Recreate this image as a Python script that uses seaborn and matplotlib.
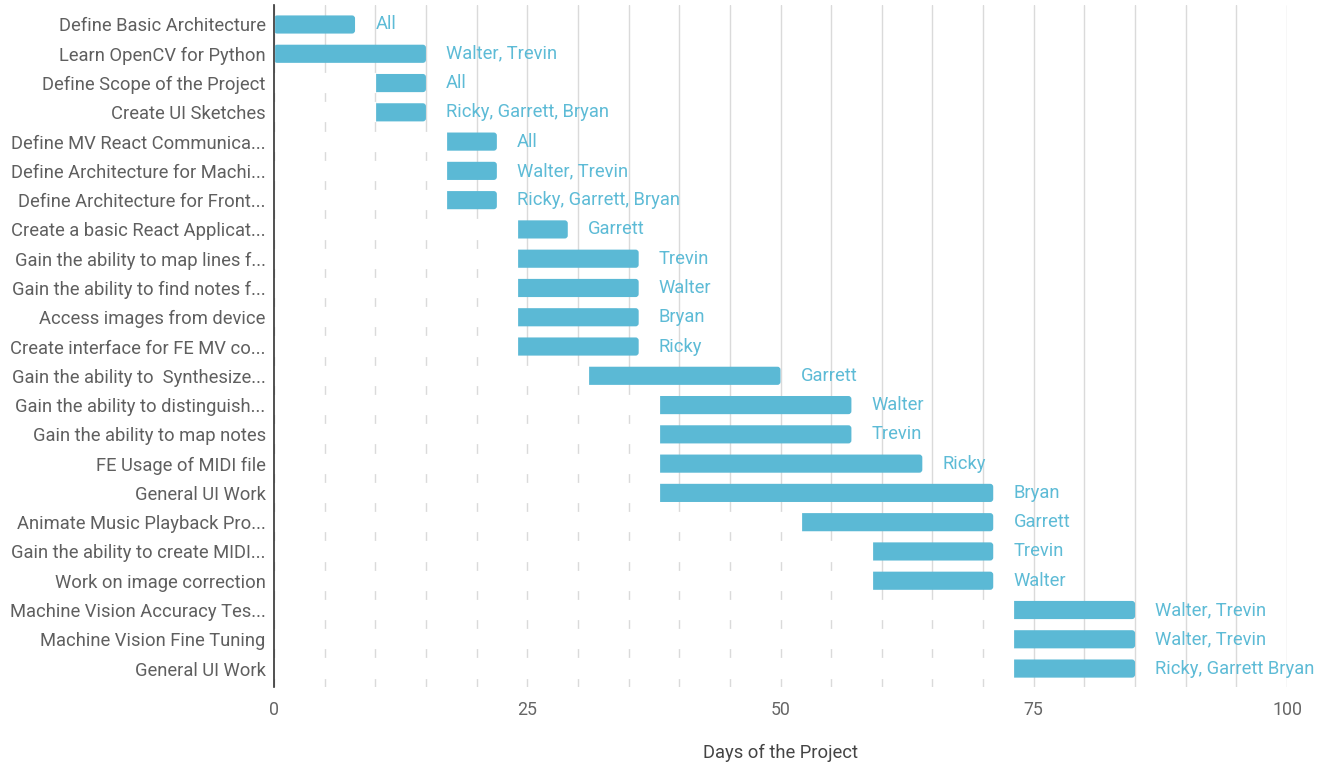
import matplotlib
matplotlib.use("Agg")
import matplotlib.pyplot as plt
from matplotlib.patches import FancyBboxPatch
import seaborn as sns
import pandas as pd

tasks = [
    "Define Basic Architecture",
    "Learn OpenCV for Python",
    "Define Scope of the Project",
    "Create UI Sketches",
    "Define MV React Communica...",
    "Define Architecture for Machi...",
    "Define Architecture for Front...",
    "Create a basic React Applicat...",
    "Gain the ability to map lines f...",
    "Gain the ability to find notes f...",
    "Access images from device",
    "Create interface for FE MV co...",
    "Gain the ability to  Synthesize...",
    "Gain the ability to distinguish...",
    "Gain the ability to map notes",
    "FE Usage of MIDI file",
    "General UI Work",
    "Animate Music Playback Pro...",
    "Gain the ability to create MIDI...",
    "Work on image correction",
    "Machine Vision Accuracy Tes...",
    "Machine Vision Fine Tuning",
    "General UI Work",
]
start_day = [0, 0, 10, 10, 17, 17, 17, 24, 24, 24, 24, 24, 31, 38, 38, 38, 38, 52, 59, 59, 73, 73, 73]
end_day = [8, 15, 15, 15, 22, 22, 22, 29, 36, 36, 36, 36, 50, 57, 57, 64, 71, 71, 71, 71, 85, 85, 85]
assignees = [
    "All", "Walter, Trevin", "All", "Ricky, Garrett, Bryan",
    "All", "Walter, Trevin", "Ricky, Garrett, Bryan", "Garrett",
    "Trevin", "Walter", "Bryan", "Ricky",
    "Garrett", "Walter", "Trevin", "Ricky", "Bryan",
    "Garrett", "Trevin", "Walter",
    "Walter, Trevin", "Walter, Trevin", "Ricky, Garrett Bryan",
]
x_ticks = [0, 25, 50, 75, 100]

df = pd.DataFrame({
    "row": [str(i) for i in range(len(tasks))],
    "task": tasks,
    "start": start_day,
    "end": end_day,
    "who": assignees,
})

sns.set_theme(style="white")
plt.rcParams["font.family"] = ["Roboto", "DejaVu Sans"]

BLUE = "#5bb9d5"
fig = plt.figure(figsize=(13.32, 7.67), dpi=100)
W, H = 1332, 767
left_px, right_px, top_px, bot_px = 274, 1287, 5, 687
ax = fig.add_axes([left_px / W, 1 - bot_px / H, (right_px - left_px) / W, (bot_px - top_px) / H])

order = list(df["row"])
sns.barplot(data=df, x="end", y="row", order=order, orient="h", color=BLUE,
            width=0.62, saturation=1, ax=ax, zorder=2)
n_blue = len(ax.patches)
sns.barplot(data=df, x="start", y="row", order=order, orient="h", color="white",
            width=0.62, saturation=1, ax=ax, zorder=3)
white_patches = list(ax.patches[n_blue:])
for p in white_patches:
    p.set_edgecolor("white")
    p.set_linewidth(1.6)

# round the bar corners slightly (like the reference)
x_px = (right_px - left_px) / 100.0
y_px = (bot_px - top_px) / (22.63 + 0.666)
blue_patches = list(ax.patches[:n_blue])
for p in blue_patches:
    x0, y0, w, h = p.get_x(), p.get_y(), p.get_width(), p.get_height()
    p.remove()
    fb = FancyBboxPatch((x0, y0), w, h, boxstyle="round,pad=0,rounding_size=0.3",
                        mutation_aspect=x_px / y_px, facecolor=BLUE,
                        edgecolor="none", linewidth=0, zorder=2)
    ax.add_patch(fb)

for i, r in df.iterrows():
    ax.text(r["end"] + 2, i, r["who"], va="center", ha="left",
            color="#5dbbd6", fontsize=13.2, zorder=4, clip_on=False)

ax.set_xlim(0, 100)
ax.set_ylim(22.63, -0.666)
ax.set_xticks(x_ticks)
ax.set_xticks(range(0, 101, 5), minor=True)
ax.set_yticks(range(len(tasks)))
ax.set_yticklabels(tasks)
ax.grid(True, axis="x", which="both", color="#dadada", linewidth=1.0, zorder=0)
ax.set_axisbelow(True)
ax.tick_params(axis="both", which="both", length=0)
ax.tick_params(axis="y", labelsize=13.2, labelcolor="#5f5f5f", pad=6)
ax.tick_params(axis="x", labelsize=12.8, labelcolor="#666666", pad=10)
ax.set_ylabel("")
ax.set_xlabel("Days of the Project", fontsize=13.2, color="#444444", labelpad=18)

for s in ["top", "right", "bottom"]:
    ax.spines[s].set_visible(False)
ax.spines["left"].set_color("#333333")
ax.spines["left"].set_linewidth(1.2)
ax.spines["left"].set_zorder(5)

fig.savefig("out.png", dpi=100, facecolor="white")
